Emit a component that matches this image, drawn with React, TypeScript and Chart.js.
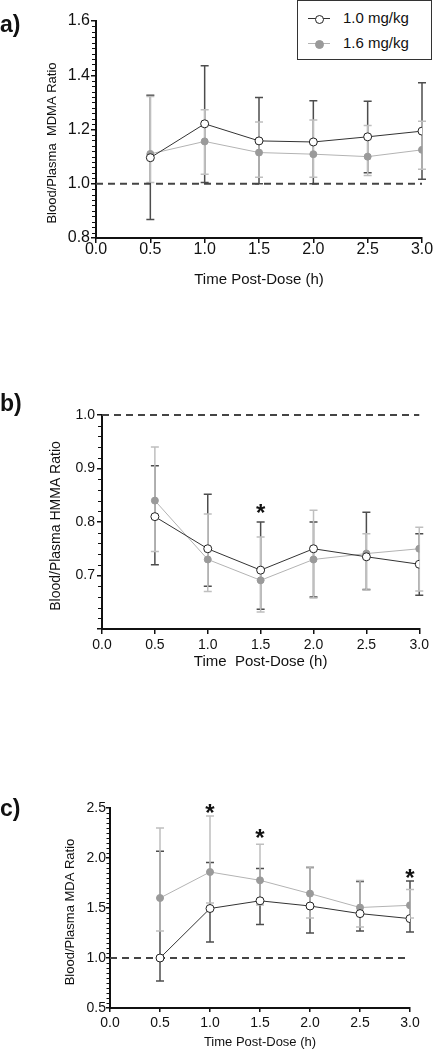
import React, { useEffect, useRef } from "react";
import { Chart, registerables } from "chart.js";

Chart.register(...registerables);

const FONT = '"Liberation Sans", Arial, Helvetica, sans-serif';

// ---------- shared data ----------
const times = [0.5, 1.0, 1.5, 2.0, 2.5, 3.0];
const xTickValues = [0, 0.5, 1.0, 1.5, 2.0, 2.5, 3.0];
const seriesNames = ["1.0 mg/kg", "1.6 mg/kg"];
const refLineX = [0, 3];
const refLineY = [1.0, 1.0];

// ---------- a) MDMA ----------
const mdmaYTicks = [0.8, 1.0, 1.2, 1.4, 1.6];
const mdma10Mean = [1.096, 1.221, 1.158, 1.154, 1.173, 1.194];
const mdma10Upper = [1.326, 1.435, 1.318, 1.306, 1.304, 1.372];
const mdma10Lower = [0.868, 1.005, 1.0, 1.0, 1.041, 1.017];
const mdma16Mean = [1.11, 1.156, 1.115, 1.109, 1.1, 1.125];
const mdma16Upper = [1.322, 1.273, 1.228, 1.235, 1.215, 1.23];
const mdma16Lower = [1.005, 1.035, 1.024, 1.024, 1.03, 1.053];
const mdmaStarX: number[] = [];
const mdmaStarY: number[] = [];

// ---------- b) HMMA ----------
const hmmaYTicks = [0.6, 0.7, 0.8, 0.9, 1.0];
const hmmaYHidden = [0.6];
const hmma10Mean = [0.81, 0.75, 0.71, 0.75, 0.735, 0.721];
const hmma10Upper = [0.905, 0.852, 0.8, 0.8, 0.818, 0.778];
const hmma10Lower = [0.72, 0.68, 0.637, 0.66, 0.674, 0.663];
const hmma16Mean = [0.84, 0.73, 0.691, 0.73, 0.741, 0.75];
const hmma16Upper = [0.94, 0.815, 0.772, 0.822, 0.778, 0.79];
const hmma16Lower = [0.745, 0.67, 0.632, 0.658, 0.673, 0.671];
const hmmaStarX = [1.5];
const hmmaStarY = [0.828];

// ---------- c) MDA ----------
const mdaYTicks = [0.5, 1.0, 1.5, 2.0, 2.5];
const mda10Mean = [1.0, 1.495, 1.572, 1.52, 1.444, 1.394];
const mda10Upper = [2.067, 1.955, 1.894, 1.905, 1.765, 1.77];
const mda10Lower = [0.77, 1.16, 1.334, 1.25, 1.27, 1.26];
const mda16Mean = [1.6, 1.86, 1.777, 1.644, 1.505, 1.527];
const mda16Upper = [2.3, 2.42, 2.137, 1.91, 1.775, 1.684];
const mda16Lower = [1.27, 1.55, 1.53, 1.4, 1.31, 1.4];
const mdaStarX = [1.0, 1.5, 3.0];
const mdaStarY = [2.51, 2.26, 1.86];

interface PanelCfg {
  top: number;
  h: number;
  padTop: number;
  padRight: number;
  yAxisW: number;
  xAxisH: number;
  yMin: number;
  yMax: number;
  yStep: number;
  yMinor: number;
  yTicks: number[];
  yHidden: number[];
  yTitle: string;
  xTitle: string;
  tickFont: number;
  xTickPad: number;
  yTickPad: number;
  majorLen: number;
  minorLen: number;
  xTitleFont: number;
  xTitlePadB: number;
  yTitleFont: number;
  yTitleX: number;
  yTitleY: number;
  mean10: number[];
  up10: number[];
  lo10: number[];
  mean16: number[];
  up16: number[];
  lo16: number[];
  starX: number[];
  starY: number[];
}

const panels: PanelCfg[] = [
  {
    top: 0, h: 290, padTop: 21, padRight: 11, yAxisW: 96, xAxisH: 52,
    yMin: 0.8, yMax: 1.6, yStep: 0.2, yMinor: 0.02, yTicks: mdmaYTicks, yHidden: [],
    yTitle: "Blood/Plasma  MDMA Ratio", xTitle: "Time Post-Dose (h)",
    tickFont: 16, xTickPad: -1, yTickPad: 1, majorLen: 5, minorLen: 3,
    xTitleFont: 15, xTitlePadB: 1, yTitleFont: 13, yTitleX: 52, yTitleY: 143,
    mean10: mdma10Mean, up10: mdma10Upper, lo10: mdma10Lower,
    mean16: mdma16Mean, up16: mdma16Upper, lo16: mdma16Lower,
    starX: mdmaStarX, starY: mdmaStarY,
  },
  {
    top: 380, h: 300, padTop: 35, padRight: 10, yAxisW: 102, xAxisH: 51,
    yMin: 0.6, yMax: 1.0, yStep: 0.1, yMinor: 0.02, yTicks: hmmaYTicks, yHidden: hmmaYHidden,
    yTitle: "Blood/Plasma HMMA Ratio", xTitle: "Time  Post-Dose (h)",
    tickFont: 14, xTickPad: 4, yTickPad: 2, majorLen: 5, minorLen: 3,
    xTitleFont: 15, xTitlePadB: 9, yTitleFont: 14, yTitleX: 56, yTitleY: 146,
    mean10: hmma10Mean, up10: hmma10Upper, lo10: hmma10Lower,
    mean16: hmma16Mean, up16: hmma16Upper, lo16: hmma16Lower,
    starX: hmmaStarX, starY: hmmaStarY,
  },
  {
    top: 770, h: 280, padTop: 38, padRight: 23, yAxisW: 110, xAxisH: 42,
    yMin: 0.5, yMax: 2.5, yStep: 0.5, yMinor: 0.05, yTicks: mdaYTicks, yHidden: [],
    yTitle: "Blood/Plasma MDA Ratio", xTitle: "Time Post-Dose (h)",
    tickFont: 14, xTickPad: 4, yTickPad: 0, majorLen: 4, minorLen: 2.5,
    xTitleFont: 13, xTitlePadB: 0, yTitleFont: 13, yTitleX: 70, yTitleY: 142,
    mean10: mda10Mean, up10: mda10Upper, lo10: mda10Lower,
    mean16: mda16Mean, up16: mda16Upper, lo16: mda16Lower,
    starX: mdaStarX, starY: mdaStarY,
  },
];

const DARK_LINE = "#333333";
const DARK_ERR = "#4d4d4d";
const LIGHT_LINE = "#b3b3b3";
const LIGHT_ERR = "#bfbfbf";
const LIGHT_DOT = "#9a9a9a";

function makeChart(canvas: HTMLCanvasElement, cfg: PanelCfg) {
  const pts = (xs: number[], ys: number[]) => xs.map((x, i) => ({ x, y: ys[i] }));

  const errorBars = {
    id: "errorBars",
    beforeDatasetsDraw(chart: any) {
      const { ctx } = chart;
      const x = chart.scales.x;
      const y = chart.scales.y;
      const sets = [
        { up: cfg.up10, lo: cfg.lo10, color: DARK_ERR },
        { up: cfg.up16, lo: cfg.lo16, color: LIGHT_ERR },
      ];
      const cap = 4;
      ctx.save();
      ctx.lineWidth = 1.5;
      for (const s of sets) {
        ctx.strokeStyle = s.color;
        times.forEach((t, i) => {
          const px = x.getPixelForValue(t);
          const yt = y.getPixelForValue(s.up[i]);
          const yb = y.getPixelForValue(s.lo[i]);
          ctx.beginPath();
          ctx.moveTo(px, yt);
          ctx.lineTo(px, yb);
          ctx.moveTo(px - cap, yt);
          ctx.lineTo(px + cap, yt);
          ctx.moveTo(px - cap, yb);
          ctx.lineTo(px + cap, yb);
          ctx.stroke();
        });
      }
      ctx.restore();
    },
  };

  const extras = {
    id: "extras",
    afterDraw(chart: any) {
      const { ctx, chartArea } = chart;
      const x = chart.scales.x;
      const y = chart.scales.y;
      // minor ticks on the y axis
      const n = Math.round((cfg.yMax - cfg.yMin) / cfg.yMinor);
      ctx.save();
      ctx.strokeStyle = "#111";
      ctx.lineWidth = 1;
      ctx.beginPath();
      for (let k = 0; k <= n; k++) {
        const v = cfg.yMin + k * cfg.yMinor;
        const r = (v - cfg.yMin) / cfg.yStep;
        if (Math.abs(r - Math.round(r)) < 1e-6) continue;
        const py = Math.round(y.getPixelForValue(v)) + 0.5;
        ctx.moveTo(chartArea.left - cfg.minorLen - 1, py);
        ctx.lineTo(chartArea.left, py);
      }
      ctx.stroke();
      // y-axis title
      ctx.fillStyle = "#111";
      ctx.font = `${cfg.yTitleFont}px ${FONT}`;
      ctx.textAlign = "center";
      ctx.textBaseline = "middle";
      ctx.translate(cfg.yTitleX, cfg.yTitleY);
      ctx.rotate(-Math.PI / 2);
      ctx.fillText(cfg.yTitle, 0, 0);
      ctx.restore();
      // significance stars
      ctx.save();
      ctx.fillStyle = "#111";
      ctx.font = `bold 24px ${FONT}`;
      ctx.textAlign = "center";
      ctx.textBaseline = "alphabetic";
      cfg.starX.forEach((sx, i) => {
        ctx.fillText("*", x.getPixelForValue(sx), y.getPixelForValue(cfg.starY[i]) + 14);
      });
      ctx.restore();
    },
  };

  return new Chart(canvas, {
    type: "line",
    data: {
      datasets: [
        {
          label: seriesNames[0],
          data: pts(times, cfg.mean10),
          borderColor: DARK_LINE,
          borderWidth: 1,
          pointRadius: 4,
          pointBackgroundColor: "#ffffff",
          pointBorderColor: "#222222",
          pointBorderWidth: 1,
          tension: 0,
        },
        {
          label: seriesNames[1],
          data: pts(times, cfg.mean16),
          borderColor: LIGHT_LINE,
          borderWidth: 1,
          pointRadius: 3.5,
          pointBackgroundColor: LIGHT_DOT,
          pointBorderColor: LIGHT_DOT,
          pointBorderWidth: 1,
          tension: 0,
        },
        {
          label: "reference",
          data: pts(refLineX, refLineY),
          borderColor: "#444444",
          borderWidth: 2,
          borderDash: [7, 5],
          pointRadius: 0,
          clip: false as any,
        },
      ],
    },
    options: {
      animation: false,
      responsive: false,
      maintainAspectRatio: false,
      layout: { padding: { top: cfg.padTop, right: cfg.padRight, bottom: 0, left: 0 } },
      plugins: {
        legend: { display: false },
        tooltip: { enabled: false },
      },
      scales: {
        x: {
          type: "linear",
          min: 0,
          max: 3,
          afterBuildTicks: (s: any) => {
            s.ticks = xTickValues.map((v) => ({ value: v }));
          },
          afterFit: (s: any) => {
            s.height = cfg.xAxisH;
          },
          ticks: {
            callback: (v: any) => Number(v).toFixed(1),
            font: { family: FONT, size: cfg.tickFont, lineHeight: 1 },
            color: "#111",
            padding: cfg.xTickPad,
            maxRotation: 0,
            minRotation: 0,
            autoSkip: false,
          },
          grid: {
            display: true,
            drawOnChartArea: false,
            drawTicks: true,
            tickLength: cfg.majorLen,
            color: "#111",
            lineWidth: 1.5,
          },
          border: { display: true, color: "#111", width: 2 },
          title: {
            display: true,
            text: cfg.xTitle,
            color: "#111",
            font: { family: FONT, size: cfg.xTitleFont, lineHeight: 1.2 },
            padding: { top: 0, bottom: cfg.xTitlePadB },
          },
        },
        y: {
          type: "linear",
          min: cfg.yMin,
          max: cfg.yMax,
          afterBuildTicks: (s: any) => {
            s.ticks = cfg.yTicks.map((v) => ({ value: v }));
          },
          afterFit: (s: any) => {
            s.width = cfg.yAxisW;
          },
          ticks: {
            callback: (v: any) =>
              cfg.yHidden.some((h) => Math.abs(h - Number(v)) < 1e-9) ? "" : Number(v).toFixed(1),
            font: { family: FONT, size: cfg.tickFont, lineHeight: 1 },
            color: "#111",
            padding: cfg.yTickPad,
            autoSkip: false,
          },
          grid: {
            display: true,
            drawOnChartArea: false,
            drawTicks: true,
            tickLength: cfg.majorLen,
            color: "#111",
            lineWidth: 1.5,
          },
          border: { display: true, color: "#111", width: 2 },
          title: { display: false },
        },
      },
    } as any,
    plugins: [errorBars, extras],
  });
}

function Panel({ cfg }: { cfg: PanelCfg }) {
  const ref = useRef<HTMLCanvasElement>(null);
  useEffect(() => {
    if (!ref.current) return;
    const chart = makeChart(ref.current, cfg);
    return () => chart.destroy();
  }, [cfg]);
  return (
    <canvas
      ref={ref}
      width={433}
      height={cfg.h}
      style={{ position: "absolute", left: 0, top: cfg.top, width: 433, height: cfg.h }}
    />
  );
}

const panelLabels = ["a)", "b)", "c)"];
const panelLabelTops = [11, 390, 795];

export default function App() {
  return (
    <div
      style={{
        position: "absolute",
        left: 0,
        top: 0,
        width: 433,
        height: 1050,
        background: "#fff",
        overflow: "hidden",
        fontFamily: FONT,
        color: "#111",
      }}
    >
      {panels.map((p, i) => (
        <Panel key={i} cfg={p} />
      ))}
      {panelLabels.map((t, i) => (
        <div
          key={t}
          style={{
            position: "absolute",
            left: 0,
            top: panelLabelTops[i],
            fontWeight: "bold",
            fontSize: 23,
            lineHeight: "26px",
          }}
        >
          {t}
        </div>
      ))}
      <div
        style={{
          position: "absolute",
          left: 297,
          top: 0,
          width: 135,
          height: 60,
          boxSizing: "border-box",
          border: "1px solid #333",
          background: "#fff",
        }}
      >
        <div style={{ position: "absolute", left: 10, top: 17, width: 22, height: 1, background: DARK_LINE }} />
        <div
          style={{
            position: "absolute",
            left: 17,
            top: 14,
            width: 7,
            height: 7,
            borderRadius: "50%",
            border: "1px solid #222",
            background: "#fff",
          }}
        />
        <div style={{ position: "absolute", left: 45, top: 8, fontSize: 15, lineHeight: "18px" }}>
          {seriesNames[0]}
        </div>
        <div style={{ position: "absolute", left: 10, top: 42, width: 22, height: 1, background: LIGHT_LINE }} />
        <div
          style={{
            position: "absolute",
            left: 17,
            top: 39,
            width: 7,
            height: 7,
            borderRadius: "50%",
            border: `1px solid ${LIGHT_DOT}`,
            background: LIGHT_DOT,
          }}
        />
        <div style={{ position: "absolute", left: 45, top: 33, fontSize: 15, lineHeight: "18px" }}>
          {seriesNames[1]}
        </div>
      </div>
    </div>
  );
}
